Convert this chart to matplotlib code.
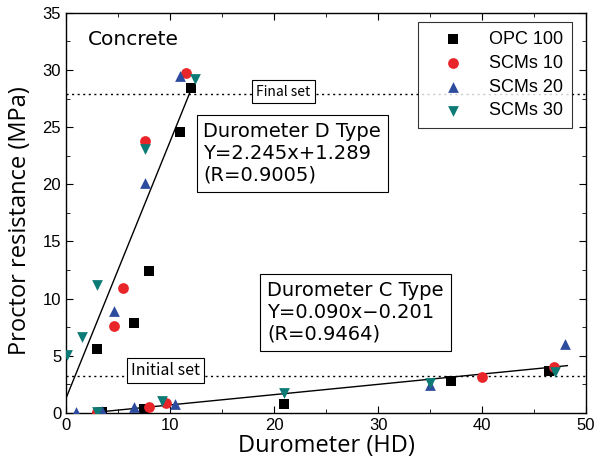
import matplotlib
matplotlib.use("Agg")
import matplotlib.pyplot as plt
import numpy as np

# Durometer (HD) vs proctor resistance (MPa)
opc_x = [3.0, 6.5, 8.0, 11.0, 12.0, 3.5, 7.5, 21.0, 37.0, 46.4]
opc_y = [5.6, 7.9, 12.4, 24.6, 28.4, 0.05, 0.3, 0.75, 2.8, 3.7]
scm10_x = [11.5, 7.6, 5.5, 4.6, 3.0, 8.0, 9.6, 40.0, 46.9]
scm10_y = [29.7, 23.8, 10.9, 7.6, 0.05, 0.5, 0.9, 3.15, 4.0]
scm20_x = [11.0, 7.6, 4.6, 1.0, 3.5, 6.5, 10.5, 35.0, 48.0]
scm20_y = [29.5, 20.1, 8.9, 0.1, 0.2, 0.5, 0.8, 2.4, 6.0]
scm30_x = [12.4, 7.6, 3.0, 1.5, 0.1, 3.0, 9.2, 21.0, 35.0, 47.0]
scm30_y = [29.2, 23.1, 11.2, 6.6, 5.1, 0.1, 1.0, 1.7, 2.6, 3.6]

series = [
    ("OPC 100", opc_x, opc_y, "s", "black"),
    ("SCMs 10", scm10_x, scm10_y, "o", "#e8262a"),
    ("SCMs 20", scm20_x, scm20_y, "^", "#2e4c9e"),
    ("SCMs 30", scm30_x, scm30_y, "v", "#0c7b76"),
]

# fitted lines (slope, intercept, x range)
d_fit = (2.245, 1.289, (0.0, 12.2))
c_fit = (0.090, -0.201, (2.6, 48.2))
final_set = 27.9
initial_set = 3.2

lab_font = ["Open Sans", "DejaVu Sans"]
box_font = ["DejaVu Sans"]
set_font = ["Noto Sans CJK KR", "DejaVu Sans"]
tick_font = "Liberation Sans"

fig = plt.figure(figsize=(5.95, 4.73), dpi=100)
ax = fig.add_axes([0.111, 0.127, 0.874, 0.846])

for slope, icpt, (x0, x1) in (d_fit, c_fit):
    xs = np.array([x0, x1])
    ax.plot(xs, slope * xs + icpt, color="black", lw=1.0, zorder=2)

ax.axhline(final_set, color="black", lw=1.0, ls=(0, (1.5, 2.5)), zorder=1)
ax.axhline(initial_set, color="black", lw=1.0, ls=(0, (1.5, 2.5)), zorder=1)

for label, xs, ys, m, c in series:
    ax.scatter(xs, ys, marker=m, s=60, color=c, label=label, zorder=3, linewidths=0)

ax.text(20.9, 28.1, "Final set", fontsize=10, family=set_font, ha="center", va="center",
        bbox=dict(boxstyle="square,pad=0.3", fc="white", ec="black", lw=0.8), zorder=4)
ax.text(9.6, 3.7, "Initial set", fontsize=11.5, family=set_font, ha="center", va="center",
        bbox=dict(boxstyle="square,pad=0.25", fc="white", ec="black", lw=0.8), zorder=4)

ax.text(13.2, 22.7, "Durometer D Type\nY=2.245x+1.289\n(R=0.9005)", fontsize=14,
        family=box_font, ha="left", va="center", linespacing=1.2,
        bbox=dict(boxstyle="square,pad=0.35", fc="white", ec="black", lw=0.8), zorder=4)
ax.text(19.35, 8.8, "Durometer C Type\nY=0.090x\u22120.201\n(R=0.9464)", fontsize=14,
        family=box_font, ha="left", va="center", linespacing=1.2,
        bbox=dict(boxstyle="square,pad=0.35", fc="white", ec="black", lw=0.8), zorder=4)

ax.text(2.1, 32.7, "Concrete", fontsize=14.5, family=box_font, ha="left", va="center")

leg = ax.legend(loc="upper right", bbox_to_anchor=(0.973, 0.9775), borderaxespad=0,
                frameon=True, fancybox=False, edgecolor="black", handlelength=2.9,
                handletextpad=0.55, borderpad=0.5, labelspacing=0.38,
                prop={"family": tick_font, "size": 13})
leg.get_frame().set_linewidth(0.8)
leg.set_zorder(5)

ax.set_xlim(0, 50)
ax.set_ylim(0, 35)
ax.set_xticks(np.arange(0, 51, 10))
ax.set_xticks(np.arange(0, 51, 5), minor=True)
ax.set_yticks(np.arange(0, 36, 5))
ax.set_yticks(np.arange(0, 36, 2.5), minor=True)
ax.tick_params(which="both", direction="in", top=True, right=True, labelsize=12)
ax.tick_params(which="major", length=5)
ax.tick_params(which="minor", length=3)
for t in ax.get_xticklabels() + ax.get_yticklabels():
    t.set_family(tick_font)
for s in ax.spines.values():
    s.set_linewidth(1.0)

ax.set_xlabel("Durometer (HD)", fontsize=17, family=lab_font, labelpad=1)
ax.set_ylabel("Proctor resistance (MPa)", fontsize=17, family=lab_font)
ax.yaxis.set_label_coords(-0.066, 0.48)

fig.savefig("out.png", dpi=100)
